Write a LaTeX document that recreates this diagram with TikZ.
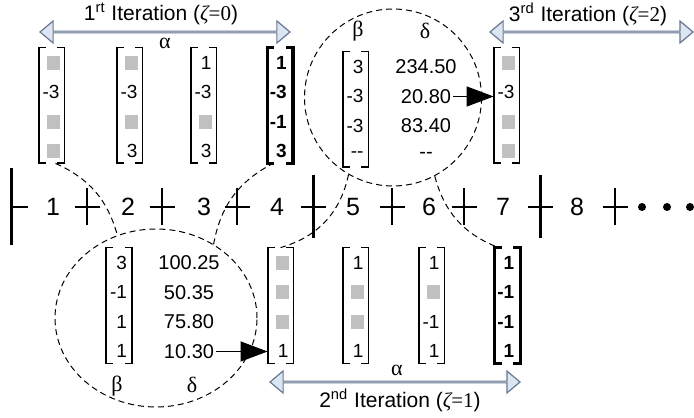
\documentclass[tikz,border=0pt]{standalone}
\usepackage{fontspec}
\setmainfont{Liberation Sans}
\newfontfamily\grk{Liberation Serif}
\usetikzlibrary{arrows.meta,positioning,shapes.geometric,shapes.arrows}

\definecolor{cellgray}{RGB}{192,192,192}
\definecolor{iterfill}{RGB}{220,230,242}
\definecolor{iteredge}{RGB}{105,120,145}

\tikzset{
  vecbox/.style={minimum width=12.5pt, minimum height=57.5pt, inner sep=0pt},
  bracket/.style={line width=0.9pt},
  entry/.style={anchor=east, inner sep=0pt, font=\fontsize{9.5}{9.5}\selectfont},
  heavy/.style={line width=1.6pt, font=\fontsize{9.5}{9.5}\selectfont\bfseries},
  dval/.style={inner sep=1pt, font=\fontsize{10}{10}\selectfont},
  num/.style={font=\fontsize{12.5}{12.5}\selectfont},
  greek/.style={inner sep=0pt, font=\fontsize{11}{11}\grk},
  itertext/.style={inner sep=0pt, font=\fontsize{10.5}{10.5}\selectfont},
  iterarrow/.style={double arrow, draw=iteredge, fill=iterfill, line width=0.6pt,
    inner sep=0pt, minimum width=11pt, double arrow head extend=3.5pt,
    double arrow tip angle=80},
  zoomline/.style={dash pattern=on 3pt off 2pt, line width=0.5pt},
  pick/.style={-{Triangle[length=13.5pt,width=10pt]}, line width=0.6pt},
  axis/.style={line width=1pt},
  bigtick/.style={line width=1.5pt},
  smalltick/.style={line width=0.6pt}
}

% column vector: [style]{name}{centre}{row1}{row2}{row3}{row4}
\newcommand{\colvec}[7][]{%
  \node[vecbox] (#2) at (#3) {};
  \draw[bracket,#1] ([xshift=3.5pt]#2.north west) -| (#2.south west) -- ++(3.5pt,0);
  \draw[bracket,#1] ([xshift=-3.5pt]#2.north east) -| (#2.south east) -- ++(-3.5pt,0);
  \node[entry,#1] (#2-1) at ([xshift=-2.25pt,yshift=-7.5pt]#2.north east) {#4};
  \node[entry,#1] (#2-2) at ([xshift=-2.25pt,yshift=-22.25pt]#2.north east) {#5};
  \node[entry,#1] (#2-3) at ([xshift=-2.25pt,yshift=-37pt]#2.north east) {#6};
  \node[entry,#1] (#2-4) at ([xshift=-2.25pt,yshift=-51.75pt]#2.north east) {#7};
}
\newcommand{\gcell}{\textcolor{cellgray}{\rule{6.5pt}{7pt}}}

\begin{document}
\begin{tikzpicture}[x=0.5pt, y=0.5pt]
  \useasboundingbox (0,0) rectangle (694,417);

  % time line
  \draw[axis] (11,210) -- (28,210);
  \draw[bigtick] (11,172) -- (11,249);
  \draw[axis] (74.5,210) -- (99.5,210);   \draw[smalltick] (87,192) -- (87,229);
  \draw[axis] (149.5,210) -- (174.5,210); \draw[smalltick] (162,192) -- (162,229);
  \draw[axis] (224.5,210) -- (249.5,210); \draw[smalltick] (237,192) -- (237,229);
  \draw[axis] (300.5,210) -- (325.5,210); \draw[bigtick] (313,179) -- (313,242);
  \draw[axis] (379.5,210) -- (404.5,210); \draw[smalltick] (392,192) -- (392,229);
  \draw[axis] (451.5,210) -- (476.5,210); \draw[smalltick] (464,192) -- (464,229);
  \draw[axis] (527.5,210) -- (552.5,210); \draw[bigtick] (540,179) -- (540,242);
  \draw[axis] (602.5,210) -- (627.5,210); \draw[smalltick] (615,192) -- (615,229);
  \node[num] (n1) at (53,210) {1};
  \node[num] (n2) at (128,210) {2};
  \node[num] (n3) at (204,210) {3};
  \node[num] (n4) at (277,210) {4};
  \node[num] (n5) at (353,210) {5};
  \node[num] (n6) at (429,210) {6};
  \node[num] (n7) at (503,210) {7};
  \node[num] (n8) at (577,210) {8};
  \fill (642,210) circle (2pt) (667,210) circle (2pt) (690,210) circle (2pt);

  % top row
  \colvec{t1}{51.5,311.5}{\gcell}{-3}{\gcell}{\gcell}
  \colvec{t2}{129.5,311.5}{\gcell}{-3}{\gcell}{3}
  \colvec{t3}{203.5,311.5}{1}{-3}{\gcell}{3}
  \colvec[heavy]{t4}{280,311.5}{1}{-3}{-1}{3}
  \colvec{t7}{506.5,311.5}{\gcell}{-3}{\gcell}{\gcell}

  % bottom row
  \colvec{b4}{280.5,111.5}{\gcell}{\gcell}{\gcell}{1}
  \colvec{b5}{355.5,111.5}{1}{\gcell}{\gcell}{1}
  \colvec{b6}{431.5,111.5}{1}{\gcell}{-1}{1}
  \colvec[heavy]{b7}{507.5,111.5}{1}{-1}{-1}{1}

  % zoom of the 2nd iteration
  \node[circle, draw, zoomline, minimum size=88.5pt, inner sep=0pt] (zoomB) at (393,319.5) {};
  \colvec{zB}{355.5,307.5}{3}{-3}{-3}{-{}-}
  \node[dval] (dB1) at (426,350) {234.50};
  \node[dval] (dB2) at (426,320.5) {20.80};
  \node[dval] (dB3) at (426,291) {83.40};
  \node[dval] (dB4) at (426,261.5) {-{}-};
  \node[greek] (betaB) at (358,386) {β};
  \node[greek] (deltaB) at (425,386) {δ};
  \draw[pick] (dB2.east) -- (t7.west |- dB2.east);

  % zoom of the 1st iteration
  \node[ellipse, draw, zoomline, minimum width=101pt, minimum height=89pt, inner sep=0pt] (zoomA) at (156,99) {};
  \colvec{zA}{119,111.5}{3}{-1}{1}{1}
  \node[dval] (dA1) at (189,154) {100.25};
  \node[dval] (dA2) at (189,124.5) {50.35};
  \node[dval] (dA3) at (189,95) {75.80};
  \node[dval] (dA4) at (189,65.5) {10.30};
  \node[greek] (betaA) at (117,31) {β};
  \node[greek] (deltaA) at (192,32) {δ};
  \draw[pick] (dA4.east) -- (b4.west |- dA4.east);

  % zoom cones
  \draw[zoomline] ([xshift=2pt]t1.south) to[bend left=25] (zoomA.115);
  \draw[zoomline] (zoomA.52) to[bend left=26] ([xshift=3pt]t4.south west);
  \draw[zoomline] (zoomB.240) to[bend left=31] (b4.north);
  \draw[zoomline] (zoomB.298) to[bend right=27] ([xshift=2pt]b7.north west);

  % iterations
  \node[iterarrow, minimum height=125pt] (it1) at (165,385) {};
  \node[itertext] (lab1) at (161,403) {1\textsuperscript{rt} Iteration ({\grk\itshape ζ}{\grk =0})};
  \node[greek] (alpha1) at (165,374) {α};
  \node[iterarrow, minimum height=125pt] (it2) at (395,35) {};
  \node[itertext] (lab2) at (400,17) {2\textsuperscript{nd} Iteration ({\grk\itshape ζ}{\grk =1})};
  \node[greek] (alpha2) at (397,47) {α};
  \node[iterarrow, minimum height=101.5pt] (it3) at (591.5,385) {};
  \node[itertext] (lab3) at (588,403) {3\textsuperscript{rd} Iteration ({\grk\itshape ζ}{\grk =2})};
\end{tikzpicture}
\end{document}
